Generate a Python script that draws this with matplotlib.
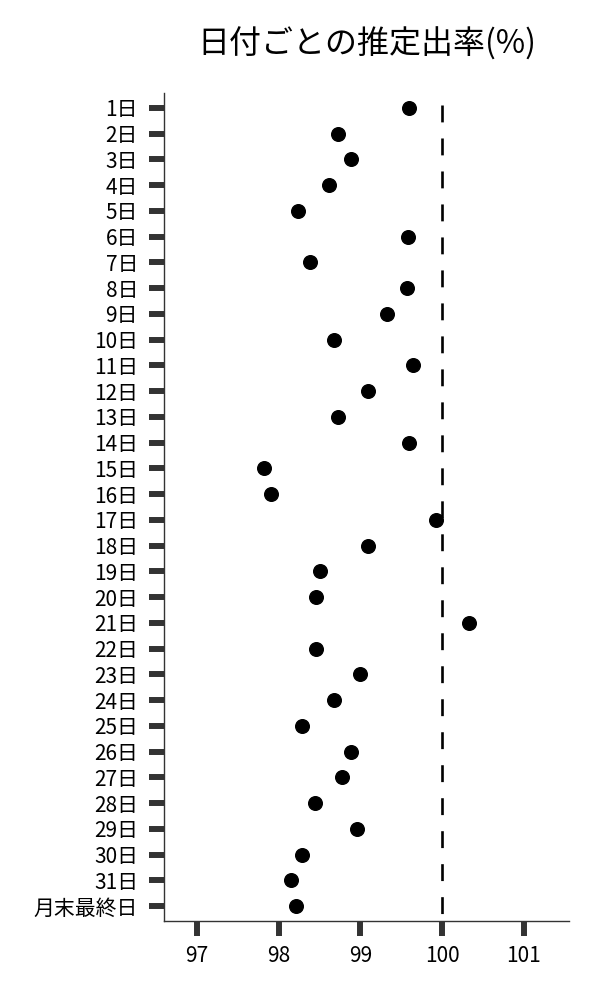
import matplotlib
matplotlib.use("Agg")
import matplotlib.pyplot as plt

plt.rcParams['font.family'] = ['Noto Sans CJK JP', 'DejaVu Sans']

# ---- data ----
DAYS = [f"{d}日" for d in range(1, 32)] + ["月末最終日"]
RATES = [99.60, 98.73, 98.88, 98.62, 98.24, 99.58, 98.38, 99.57, 99.33, 98.67,
         99.64, 99.09, 98.73, 99.60, 97.82, 97.90, 99.92, 99.09, 98.50, 98.45,
         100.33, 98.46, 99.00, 98.67, 98.28, 98.89, 98.78, 98.44, 98.96, 98.29,
         98.15, 98.21]
X_TICKS = [97, 98, 99, 100, 101]
REF_LINE = 100
TITLE = "日付ごとの推定出率(%)"

fig = plt.figure(figsize=(6, 10), dpi=100)
ax = fig.add_axes([0.274, 0.079, 0.674, 0.828])

ypos = list(range(len(DAYS)))
ax.plot(RATES, ypos, "o", color="black", ms=9.8, zorder=3)

# reference line at 100%
ax.plot([REF_LINE, REF_LINE], [-0.13, len(DAYS) - 0.42], color="black",
        lw=1.9, linestyle=(0, (6.4, 6.1)), zorder=2)

ax.set_xlim(96.6, 101.55)
ax.set_ylim(len(DAYS) - 0.42, -0.58)
ax.set_yticks(ypos)
ax.set_yticklabels(DAYS)
ax.set_xticks(X_TICKS)
ax.set_xticklabels([str(t) for t in X_TICKS])

for s in ("top", "right"):
    ax.spines[s].set_visible(False)
for s in ("left", "bottom"):
    ax.spines[s].set_color("#333333")
    ax.spines[s].set_linewidth(1.0)

ax.tick_params(axis="both", length=11, width=4.3, color="#333333",
               labelsize=15, labelcolor="black")
ax.tick_params(axis="y", pad=8)
ax.tick_params(axis="x", pad=6)

fig.text(0.6117, 1 - 44 / 1000, TITLE, ha="center", va="center", fontsize=23)

fig.savefig("out.png", dpi=100)
